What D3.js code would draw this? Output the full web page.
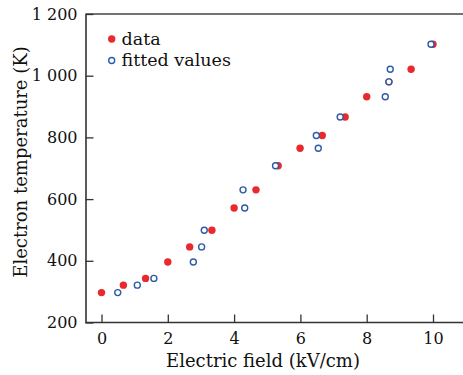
<!DOCTYPE html>
<html>
<head>
<meta charset="utf-8">
<script src="https://cdn.jsdelivr.net/npm/d3@7"></script>
<style>
  body { margin: 0; background: #fff; }
  svg text { font-family: "DejaVu Serif", serif; fill: #111; }
</style>
</head>
<body>
<svg id="chart" width="463" height="375"></svg>
<script>
// electric field (kV/cm) of the measured points
const field = [0, 0.66, 1.33, 2.0, 2.66, 3.33, 4.0, 4.66, 5.33, 5.99, 6.66, 7.35, 8.0, 8.67, 9.34, 10.0];
// electron temperature (K), shared by data and fitted values
const temperature = [297, 321, 343, 396, 445, 499, 571, 630, 708, 765, 806, 866, 932, 980, 1021, 1102];
// field of the fitted values
const fittedField = [0.49, 1.08, 1.58, 2.77, 3.02, 3.10, 4.32, 4.27, 5.25, 6.54, 6.48, 7.20, 8.56, 8.67, 8.71, 9.94];

const xTicks = [0, 2, 4, 6, 8, 10];
const yTicks = [200, 400, 600, 800, 1000, 1200];
const yTickLabels = ["200", "400", "600", "800", "1 000", "1 200"];
const legendLabels = ["data", "fitted values"];

const svg = d3.select("#chart");
const width = +svg.attr("width");
const height = +svg.attr("height");

const plotLeft = 85.5, plotTop = 14, plotBottom = 322.5;
const red = "#e8292d", blue = "#2c5aa8";

const x = d3.scaleLinear().domain([0, 10]).range([101.5, 433]);
const y = d3.scaleLinear().domain([200, 1200]).range([plotBottom, plotTop]);

// frame: top line runs to the right edge, no right border
svg.append("line")
    .attr("x1", plotLeft).attr("x2", width)
    .attr("y1", plotTop).attr("y2", plotTop)
    .attr("stroke", "#444").attr("stroke-width", 1.6);

const xAxis = svg.append("g")
    .attr("transform", "translate(0," + plotBottom + ")")
    .call(d3.axisBottom(x).tickValues(xTicks).tickSizeInner(-8).tickSizeOuter(0).tickPadding(10));
xAxis.select(".domain").attr("d", "M" + plotLeft + ",0H" + width);

const yAxis = svg.append("g")
    .attr("transform", "translate(" + plotLeft + ",0)")
    .call(d3.axisLeft(y).tickValues(yTicks).tickSizeInner(-8).tickSizeOuter(0).tickPadding(8)
        .tickFormat((d, i) => yTickLabels[i]));

[xAxis, yAxis].forEach(g => {
    g.select(".domain").attr("stroke", "#333").attr("stroke-width", 1.6);
    g.selectAll(".tick line").attr("stroke", "#333").attr("stroke-width", 1.3);
    g.selectAll(".tick text").style("font-family", "DejaVu Serif").style("font-size", "16px").attr("fill", "#111");
});

// axis titles
svg.append("text")
    .attr("x", 263).attr("y", 367)
    .attr("text-anchor", "middle")
    .style("font-size", "18px")
    .text("Electric field (kV/cm)");

svg.append("text")
    .attr("transform", "translate(27,162)rotate(-90)")
    .attr("text-anchor", "middle")
    .style("font-size", "18px")
    .text("Electron temperature (K)");

// fitted values (hollow blue) drawn over data (filled red)
svg.selectAll("circle.dat")
    .data(field)
    .enter().append("circle")
    .attr("class", "dat")
    .attr("cx", d => x(d))
    .attr("cy", (d, i) => y(temperature[i]))
    .attr("r", 3.7)
    .attr("fill", red);

svg.selectAll("circle.fit")
    .data(fittedField)
    .enter().append("circle")
    .attr("class", "fit")
    .attr("cx", d => x(d))
    .attr("cy", (d, i) => y(temperature[i]))
    .attr("r", 3)
    .attr("fill", "#fff")
    .attr("stroke", blue)
    .attr("stroke-width", 1.4);

// legend
const legend = svg.append("g");
legendLabels.forEach((label, i) => {
    const cy = 39 + i * 21.5;
    if (i === 0) {
        legend.append("circle").attr("cx", 111.7).attr("cy", cy).attr("r", 3.7).attr("fill", red);
    } else {
        legend.append("circle").attr("cx", 111.7).attr("cy", cy).attr("r", 3)
            .attr("fill", "none").attr("stroke", blue).attr("stroke-width", 1.4);
    }
    legend.append("text")
        .attr("x", 121.5).attr("y", cy + 5.5)
        .style("font-size", "17.5px")
        .text(label);
});
</script>
</body>
</html>
